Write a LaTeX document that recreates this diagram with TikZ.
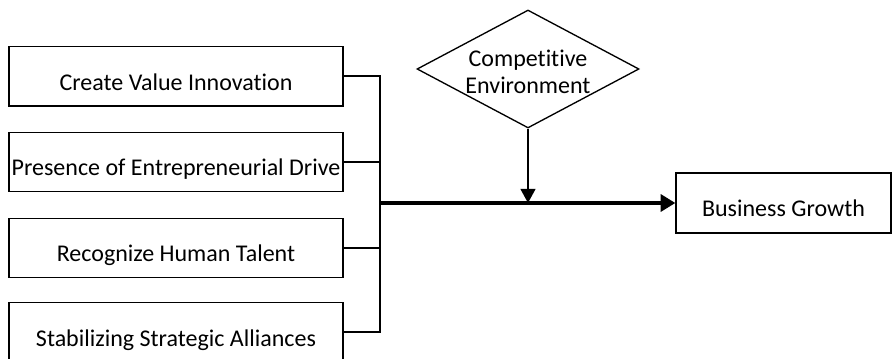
\documentclass[tikz,border=0pt]{standalone}
\usepackage{fontspec}
\setmainfont{Carlito}[Ligatures=NoCommon]
\usetikzlibrary{shapes.geometric,arrows.meta}

\tikzset{every picture/.style={line width=0.75pt}}

\begin{document}
\begin{tikzpicture}[x=0.75pt,y=0.75pt,yscale=-1,xscale=1,
  txt/.style={font=\fontsize{18}{20.5}\selectfont},
  factor/.style={txt,draw,line width=1pt,inner sep=0pt,minimum width=250.5pt,minimum height=44.5pt,text height=20.5pt,text depth=0pt},
  cond/.style={draw,shape=diamond,line width=1pt,inner sep=0pt,aspect=1.88,minimum width=166.5pt,minimum height=88.5pt},
  link/.style={line width=1.5pt},
  mainlink/.style={line width=2.5pt,-{Triangle[length=11pt,width=12.75pt]}},
  modlink/.style={line width=1.5pt,-{Triangle[length=10.5pt,width=11pt]}}]
\useasboundingbox (0,0) rectangle (892,359);

%Shape: Rectangle [factors]
\node[factor] (cvi) at (176,76.5) {Create Value Innovation};
\node[factor] (ped) at (176,162) {Presence of Entrepreneurial Drive};
\node[factor] (rht) at (176,248) {Recognize Human Talent};
\node[factor] (ssa) at (176,332.5) {Stabilizing Strategic Alliances};

%Shape: Rectangle [outcome]
\node[factor,minimum width=161.25pt,minimum height=45pt] (growth) at (783.5,203) {Business Growth};

%Shape: Diamond
\node[cond] (env) at (528,69) {};
% Text Node
\node[txt,align=center,inner sep=0pt] (envtext) at (528,72) {Competitive\\Environment};

\coordinate (hub) at (379.5,203);
\coordinate (join) at (env.south |- hub);

%Straight Lines [bracket]
\draw[link] (cvi.east) -| (hub);
\draw[link] (ped.east) -| (hub);
\draw[link] (rht.east) -| (hub);
\draw[link] (ssa.east) -| (hub);

%Straight Lines [arrows]
\draw[mainlink] (hub) -- (growth.west);
\draw[modlink] (env.south) -- (join);

\end{tikzpicture}
\end{document}
